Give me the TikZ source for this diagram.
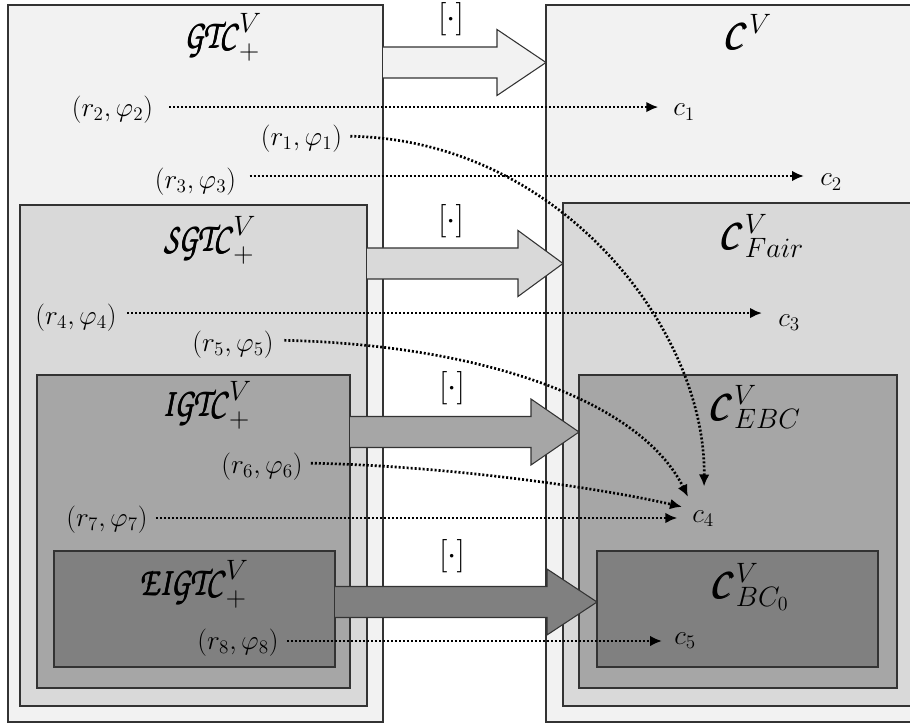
\documentclass[tikz,border=0pt]{standalone}
\usepackage{fix-cm}
\usepackage{amsmath}
\usepackage{graphicx}
\usetikzlibrary{arrows.meta}
\DeclareMathAlphabet{\mathpzc}{OT1}{pzc}{m}{it}
\newcommand{\fakebold}[1]{\rlap{$\mathpzc{#1}$}\kern0.45pt\rlap{$\mathpzc{#1}$}\raisebox{0.3pt}{$\mathpzc{#1}$}}
\newcommand{\scrL}[1]{\scalebox{0.78}[1]{\fakebold{#1}}}
\newcommand{\scrC}[1]{\scalebox{0.9}[1]{$\pmb{\mathpzc{#1}}$}\mkern1mu}
\definecolor{g1}{gray}{0.949}
\definecolor{g2}{gray}{0.851}
\definecolor{g3}{gray}{0.651}
\definecolor{g4}{gray}{0.502}
\definecolor{edge}{gray}{0.2}
\tikzset{
  boxline/.style={draw=edge, line width=0.8pt},
  lab/.style={inner sep=0pt, font=\fontsize{20.5}{24}\selectfont},
  brk/.style={inner sep=0pt, font=\fontsize{25}{30}\selectfont},
  ttl/.style={inner sep=0pt, font=\fontsize{30}{34}\selectfont},
  dots/.style={line width=2pt, dash pattern=on 1.5pt off 1.5pt, -{Latex[length=9pt,width=8pt]}},
}
\begin{document}
\begin{tikzpicture}[x=0.75pt,y=-0.75pt]
\useasboundingbox (0,0) rectangle (910,727);
\clip (0,0) rectangle (910,727);
% left nested boxes
\filldraw[boxline, fill=g1] (8,5) rectangle (383,722);
\filldraw[boxline, fill=g2] (20,205) rectangle (367,706);
\filldraw[boxline, fill=g3] (37,375) rectangle (350,688);
\filldraw[boxline, fill=g4] (54,551) rectangle (335,667);
% right nested boxes
\filldraw[boxline, fill=g1] (546,5) rectangle (932,722);
\filldraw[boxline, fill=g2] (563,203) rectangle (914,706);
\filldraw[boxline, fill=g3] (579,375) rectangle (897,688);
\filldraw[boxline, fill=g4] (597,551) rectangle (878,667);
% block arrows
\foreach \xa/\yc/\xh/\xt/\col in {383/62.5/497/546/g1, 367/263.5/518/563/g2, 350/432/531/579/g3, 335/602/547/597/g4}{
  \fill[\col] (\xa,\yc-15.5) -- (\xh,\yc-15.5) -- (\xh,\yc-33) -- (\xt,\yc) -- (\xh,\yc+33) -- (\xh,\yc+15.5) -- (\xa,\yc+15.5) -- cycle;
  \draw[boxline, line join=miter] (\xa,\yc-15.5) -- (\xh,\yc-15.5) -- (\xh,\yc-33) -- (\xt,\yc) -- (\xh,\yc+33) -- (\xh,\yc+15.5) -- (\xa,\yc+15.5);
}
\node[brk] (m1) at (451,19) {$[\cdot]$};
\node[brk] (m2) at (451,221) {$[\cdot]$};
\node[brk] (m3) at (452,388) {$[\cdot]$};
\node[brk] (m4) at (452,556) {$[\cdot]$};
% titles
\node[ttl] (tGTC) at (223,37) {$\scrL{GTC}^V_+$};
\node[ttl] (tSGTC) at (210,240) {$\scrL{SGTC}^V_+$};
\node[ttl] (tIGTC) at (207,405) {$\scrL{IGTC}^V_+$};
\node[ttl] (tEIGTC) at (194,584) {$\scrL{EIGTC}^V_+$};
\node[ttl] (tC) at (748,31) {$\scrC{C}^V$};
\node[ttl] (tFair) at (762,236) {$\scrC{C}^V_{Fair}$};
\node[ttl] (tEBC) at (755,407) {$\scrC{C}^V_{EBC}$};
\node[ttl] (tBC) at (750,587) {$\scrC{C}^V_{BC_0}$};
% pair labels
\node[lab] (r2) at (112.5,110) {$(r_2,\varphi_2)$};
\node[lab] (r1) at (301.5,139) {$(r_1,\varphi_1)$};
\node[lab] (r3) at (195.5,182) {$(r_3,\varphi_3)$};
\node[lab] (r4) at (76,318) {$(r_4,\varphi_4)$};
\node[lab] (r5) at (233,345) {$(r_5,\varphi_5)$};
\node[lab] (r6) at (262,467) {$(r_6,\varphi_6)$};
\node[lab] (r7) at (107,520) {$(r_7,\varphi_7)$};
\node[lab] (r8) at (238,643) {$(r_8,\varphi_8)$};
% targets
\node[lab, anchor=base west] (c1) at (673,116) {$c_1$};
\node[lab, anchor=base west] (c2) at (820,186) {$c_2$};
\node[lab, anchor=base west] (c3) at (778,326) {$c_3$};
\node[lab, anchor=base west] (c4) at (692,522) {$c_4$};
\node[lab, anchor=base west] (c5) at (674,644) {$c_5$};
% connectors
\draw[dots, shorten <=12pt, shorten >=11pt] ([yshift=2.2pt]r2.east) -- ([yshift=2.2pt]r2.east -| c1.west);
\draw[dots, shorten <=10pt, shorten >=12pt] ([yshift=4.5pt]r3.east) -- ([yshift=4.5pt]r3.east -| c2.west);
\draw[dots, shorten <=8pt, shorten >=12pt] ([yshift=3.7pt]r4.east) -- ([yshift=3.7pt]r4.east -| c3.west);
\draw[dots, shorten <=6pt, shorten >=11pt] ([yshift=1.5pt]r7.east) -- ([yshift=1.5pt]r7.east -| c4.west);
\draw[dots, shorten <=6pt, shorten >=9pt] ([yshift=1.5pt]r8.east) -- ([yshift=1.5pt]r8.east -| c5.west);
\draw[dots, shorten <=6pt] ([yshift=2.2pt]r1.east) .. controls (560,140) and (706,330) .. ([xshift=0.75pt,yshift=17.6pt]c4.north);
\draw[dots, shorten <=8pt] ([yshift=3.7pt]r5.east) .. controls (480,345) and (640,400) .. ([xshift=-3pt,yshift=16pt]c4.west);
\draw[dots, shorten <=6pt] ([yshift=3pt]r6.east) .. controls (450,466) and (600,488) .. ([xshift=-7.5pt,yshift=8.5pt]c4.west);
\end{tikzpicture}
\end{document}
